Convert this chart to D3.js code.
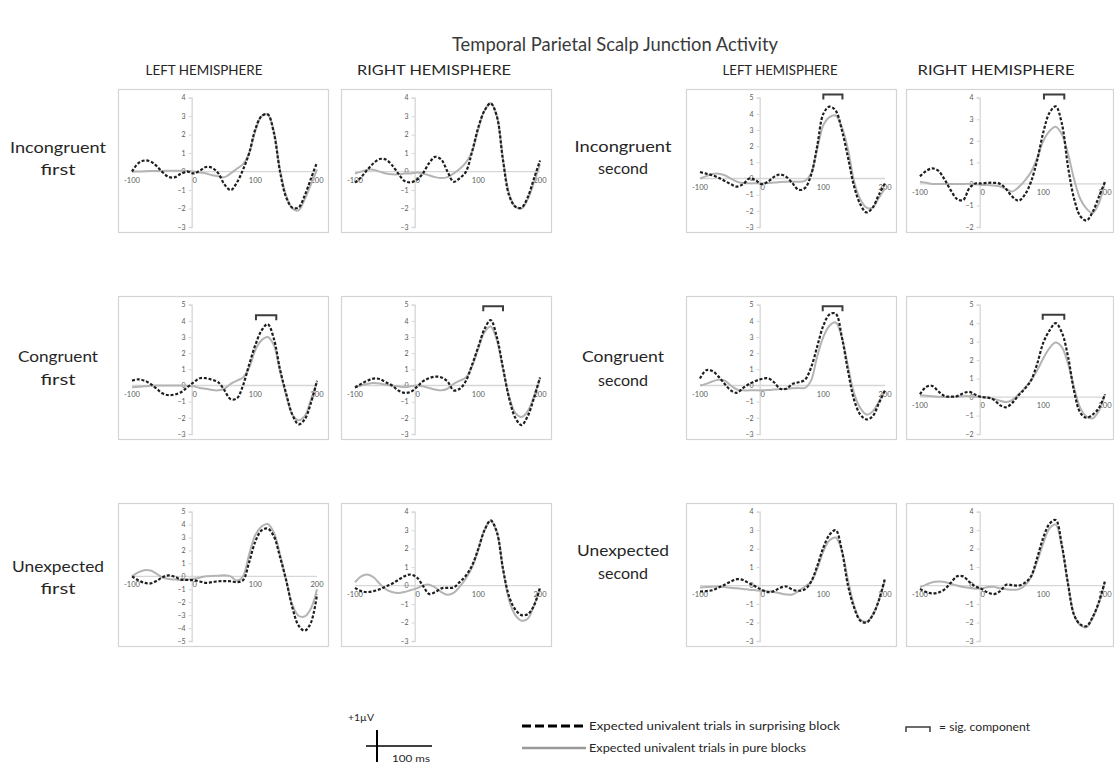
<!DOCTYPE html>
<html><head><meta charset="utf-8">
<script src="https://cdn.jsdelivr.net/npm/d3@7"></script>
<style>body{margin:0;background:#fff}svg{display:block}</style>
</head><body>
<svg id="chart" width="1114" height="766"></svg>
<script>
// Sample times (ms) for every waveform
const times = [-100,-90,-80,-70,-60,-50,-40,-30,-20,-10,0,10,20,30,40,50,60,70,80,90,100,110,120,130,140,150,160,170,180,190,200];
const xTickValues = [-100, 0, 100, 200];

// Incongruent first
const incFirstLeftSurprise = [0.0,0.45,0.6,0.55,0.3,-0.05,-0.3,-0.3,-0.1,0.0,-0.1,0.05,0.25,0.2,-0.1,-0.7,-1.0,-0.6,0.1,1.0,2.3,3.0,3.1,2.1,0.0,-1.4,-1.95,-1.95,-1.3,-0.4,0.5];
const incFirstLeftPure     = [0.0,0.0,0.02,0.03,0.03,0.03,0.05,0.05,0.05,0.03,0.0,-0.05,-0.1,-0.2,-0.25,-0.3,-0.1,0.15,0.4,1.0,2.2,3.0,3.1,2.2,0.1,-1.3,-2.0,-2.1,-1.5,-0.7,0.1];
const incFirstRightSurprise = [-0.6,-0.3,0.1,0.45,0.68,0.65,0.35,-0.1,-0.5,-0.58,-0.45,-0.1,0.45,0.8,0.65,0.0,-0.55,-0.35,0.0,1.1,2.4,3.3,3.7,3.0,0.6,-1.3,-1.9,-1.95,-1.4,-0.4,0.6];
const incFirstRightPure     = [-0.1,0.0,0.1,0.1,0.0,-0.1,-0.15,-0.15,-0.1,-0.1,-0.05,-0.1,-0.2,-0.3,-0.35,-0.3,-0.1,0.15,0.5,1.1,2.3,3.3,3.7,3.0,0.7,-1.2,-1.9,-2.0,-1.5,-0.6,0.4];
// Incongruent second
const incSecondLeftSurprise = [0.4,0.3,0.2,0.05,-0.15,-0.35,-0.5,-0.35,0.0,-0.1,-0.35,-0.2,0.1,0.25,0.1,-0.3,-0.7,-0.6,0.2,2.0,4.0,4.45,4.2,3.0,1.3,-0.5,-1.6,-2.1,-1.8,-1.0,-0.3];
const incSecondLeftPure     = [0.0,0.15,0.28,0.3,0.2,0.0,-0.2,-0.28,-0.3,-0.3,-0.3,-0.28,-0.25,-0.22,-0.2,-0.2,-0.2,-0.15,0.3,1.8,3.3,3.8,3.9,3.2,1.8,-0.2,-1.3,-1.8,-1.8,-1.2,-0.6];
const incSecondRightSurprise = [0.35,0.6,0.72,0.6,0.2,-0.3,-0.7,-0.75,-0.2,0.02,0.02,0.05,0.05,0.0,-0.25,-0.6,-0.78,-0.5,0.1,1.1,2.4,3.3,3.6,2.8,0.8,-0.7,-1.5,-1.7,-1.3,-0.6,0.1];
const incSecondRightPure     = [0.1,0.05,0.0,0.0,0.0,0.0,0.0,0.0,0.0,-0.02,-0.05,-0.05,-0.08,-0.12,-0.25,-0.35,-0.15,0.15,0.55,1.2,2.0,2.45,2.65,2.3,1.4,0.2,-0.7,-1.15,-1.35,-0.9,0.1];
// Congruent first
const conFirstLeftSurprise = [0.3,0.38,0.3,0.1,-0.2,-0.5,-0.6,-0.55,-0.4,-0.1,0.2,0.45,0.45,0.35,0.2,-0.3,-0.85,-0.8,0.0,1.3,2.5,3.4,3.8,2.9,1.0,-0.5,-1.8,-2.4,-2.1,-1.1,0.3];
const conFirstLeftPure     = [-0.1,-0.08,-0.05,-0.02,0.0,0.0,0.0,0.0,0.0,-0.02,-0.05,-0.15,-0.2,-0.28,-0.3,-0.2,0.1,0.3,0.5,1.1,2.2,2.8,3.0,2.5,0.9,-0.6,-1.8,-2.15,-1.9,-0.9,0.2];
const conFirstRightSurprise = [-0.12,0.1,0.3,0.43,0.4,0.2,0.0,-0.3,-0.45,-0.4,-0.1,0.25,0.45,0.55,0.5,0.25,-0.3,-0.2,0.3,1.3,2.4,3.5,4.05,3.0,1.1,-0.8,-2.0,-2.45,-1.9,-0.8,0.5];
const conFirstRightPure     = [-0.12,0.0,0.1,0.15,0.12,0.05,0.0,-0.05,-0.1,-0.05,0.0,-0.05,-0.15,-0.25,-0.3,-0.2,0.1,0.3,0.5,1.2,2.3,3.3,3.65,2.8,1.0,-0.7,-1.7,-1.95,-1.6,-0.7,0.45];
// Congruent second
const conSecondLeftSurprise = [0.43,0.95,0.9,0.55,0.1,-0.3,-0.45,-0.15,0.1,0.28,0.4,0.45,0.2,-0.2,-0.2,0.1,0.2,0.35,1.1,2.4,3.7,4.4,4.45,3.0,0.9,-0.9,-1.8,-2.1,-1.9,-1.1,-0.3];
const conSecondLeftPure     = [0.0,0.1,0.25,0.35,0.3,0.0,-0.25,-0.3,-0.3,-0.3,-0.3,-0.28,-0.25,-0.22,-0.2,-0.17,-0.15,-0.15,0.3,1.8,3.0,3.7,3.9,3.0,1.2,-0.5,-1.4,-1.8,-1.6,-1.0,-0.3];
const conSecondRightSurprise = [0.15,0.55,0.6,0.3,0.05,0.02,0.05,0.2,0.28,0.12,0.0,-0.03,-0.15,-0.45,-0.55,-0.3,0.1,0.45,0.9,1.8,2.95,3.6,4.0,3.5,2.2,0.3,-0.85,-1.12,-0.95,-0.6,0.15];
const conSecondRightPure     = [0.1,0.07,0.05,0.02,0.0,0.0,0.02,0.05,0.05,0.02,0.0,-0.03,-0.1,-0.2,-0.27,-0.15,0.15,0.5,0.9,1.45,2.1,2.65,2.95,2.7,1.8,0.5,-0.6,-1.05,-1.15,-0.75,0.15];
// Unexpected first
const unexFirstLeftSurprise = [0.0,-0.3,-0.5,-0.55,-0.35,-0.05,0.08,-0.05,-0.25,-0.28,-0.3,-0.4,-0.5,-0.45,-0.38,-0.37,-0.38,-0.45,-0.3,1.1,2.7,3.55,3.7,3.1,1.5,-0.3,-2.4,-3.8,-4.2,-3.6,-1.4];
const unexFirstLeftPure     = [0.0,0.3,0.48,0.45,0.2,-0.1,-0.2,-0.25,-0.3,-0.25,-0.18,-0.1,0.0,0.03,0.05,0.08,0.0,-0.33,0.0,1.7,3.2,3.85,4.05,3.4,1.7,-0.3,-2.2,-3.05,-3.1,-2.5,-1.0];
const unexFirstRightSurprise = [-0.12,-0.3,-0.35,-0.3,-0.2,-0.05,0.1,0.3,0.5,0.6,0.45,0.0,-0.45,-0.35,-0.15,-0.12,-0.1,0.2,0.55,1.1,2.0,3.0,3.53,2.9,0.9,-0.6,-1.3,-1.6,-1.55,-1.1,-0.1];
const unexFirstRightPure     = [0.18,0.5,0.6,0.45,0.1,-0.2,-0.35,-0.4,-0.35,-0.25,-0.15,0.0,0.05,-0.1,-0.35,-0.5,-0.4,-0.05,0.4,1.0,1.95,3.0,3.5,2.9,0.9,-0.8,-1.6,-1.9,-1.8,-1.1,-0.15];
// Unexpected second
const unexSecondLeftSurprise = [-0.32,-0.3,-0.25,-0.1,0.05,0.22,0.35,0.3,0.12,-0.05,-0.23,-0.35,-0.3,-0.12,-0.05,-0.22,-0.28,-0.2,0.2,1.05,2.05,2.75,3.0,1.9,0.0,-1.2,-1.9,-2.0,-1.6,-0.8,0.4];
const unexSecondLeftPure     = [-0.1,-0.08,-0.06,-0.05,-0.08,-0.12,-0.15,-0.18,-0.22,-0.25,-0.28,-0.3,-0.35,-0.42,-0.48,-0.48,-0.3,-0.05,0.2,0.9,1.85,2.45,2.6,1.9,0.3,-1.1,-1.85,-1.95,-1.6,-0.8,0.3];
const unexSecondRightSurprise = [-0.18,-0.35,-0.42,-0.38,-0.2,0.15,0.5,0.5,0.2,-0.05,-0.18,-0.38,-0.46,-0.3,0.05,0.02,0.0,0.15,0.5,1.5,2.6,3.35,3.55,2.2,0.1,-1.6,-2.1,-2.2,-1.7,-0.9,0.25];
const unexSecondRightPure     = [-0.1,0.05,0.18,0.22,0.2,0.1,0.0,-0.08,-0.13,-0.17,-0.15,-0.08,-0.07,-0.15,-0.2,-0.23,-0.2,0.0,0.45,1.3,2.3,3.1,3.3,2.1,0.1,-1.6,-2.15,-2.25,-1.75,-0.95,0.2];

// Significant components: [start ms, end ms, level µV]
const sigIncSecondLeft  = [100, 131, 5.2];
const sigIncSecondRight = [101, 134, 4.15];
const sigConFirstLeft   = [101, 134, 4.35];
const sigConFirstRight  = [108, 140, 4.9];
const sigConSecondLeft  = [99, 131, 4.9];
const sigConSecondRight = [99, 134, 4.45];

const columnTitles = ["LEFT HEMISPHERE", "RIGHT HEMISPHERE", "LEFT HEMISPHERE", "RIGHT HEMISPHERE"];
const leftRowLabels  = [["Incongruent", "first"], ["Congruent", "first"], ["Unexpected", "first"]];
const rightRowLabels = [["Incongruent", "second"], ["Congruent", "second"], ["Unexpected", "second"]];
const legendLabels = ["Expected univalent trials in surprising block", "Expected univalent trials in pure blocks", "= sig. component"];

const panels = [
  {row: 0, col: 0, y: [-3, 4], surprise: incFirstLeftSurprise,  pure: incFirstLeftPure,  sig: null},
  {row: 0, col: 1, y: [-3, 4], surprise: incFirstRightSurprise, pure: incFirstRightPure, sig: null},
  {row: 0, col: 2, y: [-3, 5], surprise: incSecondLeftSurprise, pure: incSecondLeftPure, sig: sigIncSecondLeft},
  {row: 0, col: 3, y: [-2, 4], surprise: incSecondRightSurprise, pure: incSecondRightPure, sig: sigIncSecondRight},
  {row: 1, col: 0, y: [-3, 5], surprise: conFirstLeftSurprise,  pure: conFirstLeftPure,  sig: sigConFirstLeft},
  {row: 1, col: 1, y: [-3, 5], surprise: conFirstRightSurprise, pure: conFirstRightPure, sig: sigConFirstRight},
  {row: 1, col: 2, y: [-3, 5], surprise: conSecondLeftSurprise, pure: conSecondLeftPure, sig: sigConSecondLeft},
  {row: 1, col: 3, y: [-2, 5], surprise: conSecondRightSurprise, pure: conSecondRightPure, sig: sigConSecondRight},
  {row: 2, col: 0, y: [-5, 5], surprise: unexFirstLeftSurprise,  pure: unexFirstLeftPure,  sig: null},
  {row: 2, col: 1, y: [-3, 4], surprise: unexFirstRightSurprise, pure: unexFirstRightPure, sig: null},
  {row: 2, col: 2, y: [-3, 4], surprise: unexSecondLeftSurprise, pure: unexSecondLeftPure, sig: null},
  {row: 2, col: 3, y: [-3, 4], surprise: unexSecondRightSurprise, pure: unexSecondRightPure, sig: null}
];

// ---- layout ----
const colLeft  = [118, 341, 686, 906];
const colWidth = [210, 210, 210, 207];
const rowTop   = [89, 296, 503];
const panelH   = 143;
const FONT = "Lato, 'Open Sans', sans-serif";
const TEXT_COLOR = "#262626";
const DASH_COLOR = "#1e1e1e", PURE_COLOR = "#b4b4b4", AXIS_COLOR = "#d6d6d6", TICK_TEXT = "#5a5a5a";

const svg = d3.select("#chart");

// writes a label and stretches it to the given width
function label(x, y, text, size, width, anchor = "middle", fill = TEXT_COLOR) {
  const t = svg.append("text").attr("x", x).attr("y", y).attr("text-anchor", anchor)
    .attr("font-family", FONT).attr("font-size", size).attr("fill", fill).text(text);
  if (width) t.attr("textLength", width).attr("lengthAdjust", "spacingAndGlyphs");
  return t;
}

// title
label(615, 51, "Temporal Parietal Scalp Junction Activity", 19, 326, "middle", "#3a3a3a");

// column titles
const colTitleCx = [204, 434, 780, 996];
const colTitleW  = [117, 154, 115, 157];
columnTitles.forEach((t, i) => label(colTitleCx[i], 75, t, 13.5, colTitleW[i]));

// row labels
const leftLabelY  = [[148, 170], [357, 380], [567, 589]];
const rightLabelY = [[147, 169], [357, 381], [551, 574]];
const leftLabelW  = [[96, 35], [80, 35], [92, 35]];
const rightLabelW = [[97, 50], [82, 50], [92, 50]];
leftRowLabels.forEach((lines, r) => lines.forEach((s, k) =>
  label(58, leftLabelY[r][k] + 5, s, 14.5, leftLabelW[r][k])));
rightRowLabels.forEach((lines, r) => lines.forEach((s, k) =>
  label(623, rightLabelY[r][k] + 5, s, 14.5, rightLabelW[r][k])));

// panels
panels.forEach(p => {
  const left = colLeft[p.col], top = rowTop[p.row], w = colWidth[p.col];
  const bottom = top + panelH;
  const g = svg.append("g");
  g.append("rect").attr("x", left + 0.5).attr("y", top + 0.5).attr("width", w).attr("height", panelH)
    .attr("fill", "#fff").attr("stroke", "#d4d4d4").attr("stroke-width", 1.2);

  const x = d3.scaleLinear().domain([-100, 200]).range([left + 14, left + 199]);
  const y = d3.scaleLinear().domain(p.y).range([bottom - 5, top + 8.7]);

  // axes
  g.append("line").attr("x1", x(-100)).attr("x2", x(200)).attr("y1", y(0)).attr("y2", y(0))
    .attr("stroke", AXIS_COLOR).attr("stroke-width", 1.3);
  const yAxis = d3.axisLeft(y).tickValues(d3.range(p.y[0], p.y[1] + 1))
    .tickFormat(d3.format("d")).tickSize(3).tickPadding(3);
  const ya = g.append("g").attr("transform", `translate(${x(0) - 2},0)`).call(yAxis);
  ya.select(".domain").attr("stroke", AXIS_COLOR).attr("stroke-width", 1.3);
  ya.selectAll(".tick line").attr("stroke", AXIS_COLOR);
  ya.selectAll(".tick text").attr("font-size", 7).attr("font-family", FONT).attr("fill", TICK_TEXT);

  g.selectAll(".xlab").data(xTickValues).join("text")
    .attr("x", d => x(d) + (d === 0 ? 1 : 0)).attr("y", y(0) + 11).attr("text-anchor", "middle")
    .attr("font-size", 7.5).attr("font-family", FONT).attr("fill", TICK_TEXT).text(d => d);

  const line = d3.line().x((d, i) => x(times[i])).y(d => y(d)).curve(d3.curveCatmullRom.alpha(0.5));
  g.append("path").attr("d", line(p.pure)).attr("fill", "none")
    .attr("stroke", PURE_COLOR).attr("stroke-width", 2);
  g.append("path").attr("d", line(p.surprise)).attr("fill", "none")
    .attr("stroke", DASH_COLOR).attr("stroke-width", 2.2).attr("stroke-dasharray", "3,1.8");

  if (p.sig) {
    const [t0, t1, lv] = p.sig;
    const yb = y(lv);
    g.append("path").attr("d", `M${x(t0)},${yb + 5}V${yb}H${x(t1)}V${yb + 5}`)
      .attr("fill", "none").attr("stroke", "#3c3c3c").attr("stroke-width", 2);
  }
});

// scale bar
label(348, 721, "+1µV", 10, 26, "start");
svg.append("line").attr("x1", 377).attr("x2", 377).attr("y1", 730).attr("y2", 762).attr("stroke", "#000").attr("stroke-width", 2);
svg.append("line").attr("x1", 366).attr("x2", 432).attr("y1", 746).attr("y2", 746).attr("stroke", "#000").attr("stroke-width", 1.5);
label(392, 762, "100 ms", 10, 38, "start");

// legend
svg.append("line").attr("x1", 522).attr("x2", 586).attr("y1", 726).attr("y2", 726)
  .attr("stroke", "#000").attr("stroke-width", 3).attr("stroke-dasharray", "9,4");
label(589, 730, legendLabels[0], 11, 251, "start");
svg.append("line").attr("x1", 522).attr("x2", 586).attr("y1", 748).attr("y2", 748)
  .attr("stroke", "#9a9a9a").attr("stroke-width", 2.5);
label(589, 752, legendLabels[1], 11, 217, "start");
svg.append("path").attr("d", "M906,732V727H930V732").attr("fill", "none").attr("stroke", "#3c3c3c").attr("stroke-width", 1.5);
label(939, 731, legendLabels[2], 11, 91, "start");
</script>
</body></html>
